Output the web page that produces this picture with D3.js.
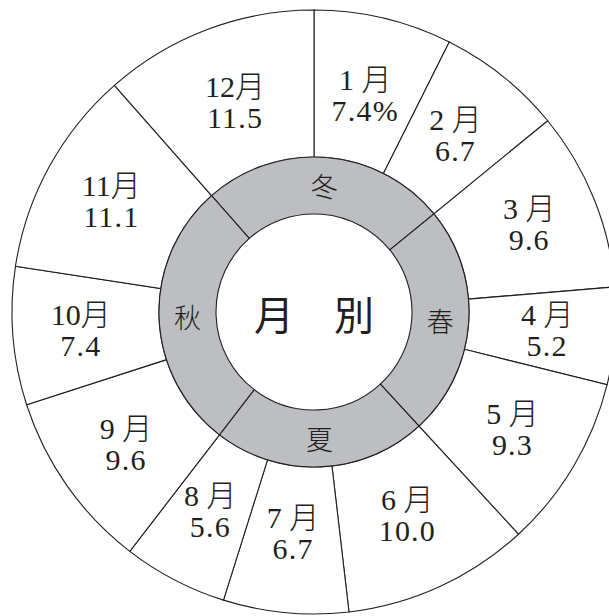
<!DOCTYPE html>
<html>
<head>
<meta charset="utf-8">
<script src="https://cdn.jsdelivr.net/npm/d3@7"></script>
<style>
  html, body { margin: 0; padding: 0; background: #fff; }
  svg { display: block; }
</style>
</head>
<body>
<svg id="chart" width="609" height="616"></svg>
<script>
// ---- data ----
const months = ["1 月", "2 月", "3 月", "4 月", "5 月", "6 月", "7 月", "8 月", "9 月", "10月", "11月", "12月"];
const monthValues = [7.4, 6.7, 9.6, 5.2, 9.3, 10.0, 6.7, 5.6, 9.6, 7.4, 11.1, 11.5];
const seasons = ["冬", "春", "夏", "秋"];
const seasonMonths = [[11, 0, 1], [2, 3, 4], [5, 6, 7], [8, 9, 10]]; // indices into months
const centerTitle = "月　別";

// ---- layout ----
const W = 609, H = 616;
const cx = 314, cy = 312;
const rOuter = 302, rRing = 155, rInner = 98;
const rLabelX = 234, rLabelY = 222, rSeason = 126.5;
const ink = "#231f20";

const svg = d3.select("#chart");
const g = svg.append("g").attr("transform", `translate(${cx},${cy})`);

const total = d3.sum(monthValues);
const monthData = months.map((m, i) => ({ label: m, value: monthValues[i], i }));

const monthPie = d3.pie().sort(null).value(d => d.value)
  .startAngle(0).endAngle(2 * Math.PI);
const monthArcs = monthPie(monthData);

const monthArc = d3.arc().innerRadius(rRing).outerRadius(rOuter);
g.selectAll("path.month").data(monthArcs).join("path")
  .attr("class", "month")
  .attr("d", monthArc)
  .attr("fill", "#fff")
  .attr("stroke", ink)
  .attr("stroke-width", 1.1);

// seasons
const seasonData = seasons.map((s, k) => ({ label: s, value: d3.sum(seasonMonths[k], j => monthValues[j]) }));
const seasonStart = -2 * Math.PI * monthValues[11] / total;
const seasonPie = d3.pie().sort(null).value(d => d.value)
  .startAngle(seasonStart).endAngle(seasonStart + 2 * Math.PI);
const seasonArcs = seasonPie(seasonData);
const seasonArc = d3.arc().innerRadius(rInner).outerRadius(rRing);
g.selectAll("path.season").data(seasonArcs).join("path")
  .attr("class", "season")
  .attr("d", seasonArc)
  .attr("fill", "#bdbec1")
  .attr("stroke", ink)
  .attr("stroke-width", 1.1);

// month labels (placed on an ellipse around the centre)
function labelPos(a) {
  const s = Math.sin(a), c = Math.cos(a);
  const r = 1 / Math.sqrt((s / rLabelX) ** 2 + (c / rLabelY) ** 2);
  return [r * s, -r * c];
}
const fmt = d3.format(".1f");
const labelFont = "'Liberation Serif', 'Noto Sans CJK JP', serif";
const lbl = g.selectAll("text.mlabel").data(monthArcs).join("text")
  .attr("class", "mlabel")
  .attr("transform", d => {
    const [x, y] = labelPos((d.startAngle + d.endAngle) / 2);
    return `translate(${x},${y})`;
  })
  .attr("text-anchor", "middle")
  .attr("font-family", labelFont)
  .attr("font-size", 30)
  .attr("font-weight", 300)
  .attr("fill", ink);
lbl.append("tspan").attr("x", 0).attr("y", -5.5)
  .text(d => d.data.label);
lbl.append("tspan").attr("x", 0).attr("y", 25.5)
  .attr("letter-spacing", 1.2)
  .text(d => fmt(d.data.value) + (d.data.i === 0 ? "%" : ""));

// season labels
g.selectAll("text.slabel").data(seasonArcs).join("text")
  .attr("class", "slabel")
  .attr("transform", d => {
    const a = (d.startAngle + d.endAngle) / 2;
    return `translate(${rSeason * Math.sin(a)},${-rSeason * Math.cos(a)})`;
  })
  .attr("text-anchor", "middle")
  .attr("dominant-baseline", "central")
  .attr("font-family", "'Noto Sans CJK JP', sans-serif")
  .attr("font-size", 27)
  .attr("font-weight", 300)
  .attr("fill", ink)
  .text(d => d.data.label);

// center title
g.append("text")
  .attr("x", 0).attr("y", 1)
  .attr("text-anchor", "middle")
  .attr("dominant-baseline", "central")
  .attr("font-family", "'Noto Sans CJK JP', sans-serif")
  .attr("font-size", 40)
  .attr("font-weight", 400)
  .attr("fill", ink)
  .text(centerTitle);
</script>
</body>
</html>
